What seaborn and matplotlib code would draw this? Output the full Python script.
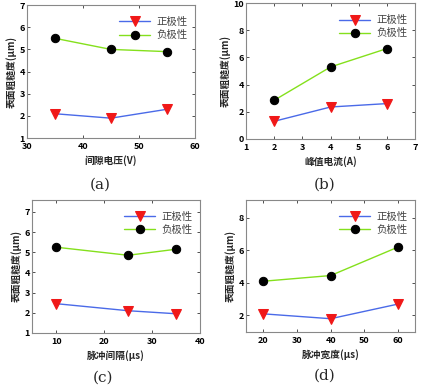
import matplotlib

matplotlib.use("Agg")
import matplotlib.pyplot as plt
import pandas as pd
import seaborn as sns

# 数据
gap_voltage = [35, 45, 55]
gap_pos = [2.1, 1.9, 2.3]
gap_neg = [5.5, 5.0, 4.9]

peak_current = [2, 4, 6]
peak_pos = [1.3, 2.35, 2.6]
peak_neg = [2.85, 5.3, 6.65]

pulse_interval = [10, 25, 35]
interval_pos = [2.45, 2.1, 1.95]
interval_neg = [5.25, 4.85, 5.15]

pulse_width = [20, 40, 60]
width_pos = [2.1, 1.8, 2.7]
width_neg = [4.1, 4.45, 6.2]

sns.set_style("ticks")
plt.rcParams["font.family"] = ["Noto Sans CJK SC", "DejaVu Sans"]

fig = plt.figure(figsize=(4.35, 3.88), dpi=100)

panels = [
    # x, pos, neg, xlabel, xlim, ylim, xticks, yticks, rect, caption
    (gap_voltage, gap_pos, gap_neg, "间隙电压(V)", (30, 60), (1, 7),
     [30, 40, 50, 60], range(1, 8), [0.062, 0.644, 0.386, 0.343], "(a)", (0.23, 0.515)),
    (peak_current, peak_pos, peak_neg, "峰值电流(A)", (1, 7), (0, 10),
     range(1, 8), range(0, 11, 2), [0.566, 0.642, 0.388, 0.350], "(b)", (0.747, 0.515)),
    (pulse_interval, interval_pos, interval_neg, "脉冲间隔(μs)", (5, 40), (1, 7.6),
     [10, 20, 30, 40], range(1, 8), [0.074, 0.142, 0.386, 0.343], "(c)", (0.237, 0.016)),
    (pulse_width, width_pos, width_neg, "脉冲宽度(μs)", (15, 65), (1, 9.1),
     [20, 30, 40, 50, 60], [2, 4, 6, 8], [0.566, 0.145, 0.388, 0.340], "(d)", (0.747, 0.021)),
]

for x, pos, neg, xlabel, xlim, ylim, xticks, yticks, rect, cap, cap_xy in panels:
    ax = fig.add_axes(rect)
    df = pd.DataFrame({"x": x, "pos": pos, "neg": neg})
    sns.lineplot(data=df, x="x", y="pos", ax=ax, color="#4a6ae8", lw=1.0,
                 marker="v", markersize=7, markerfacecolor="#f01818",
                 markeredgecolor="#f01818", label="正极性")
    sns.lineplot(data=df, x="x", y="neg", ax=ax, color="#84e01c", lw=1.0,
                 marker="o", markersize=6, markerfacecolor="black",
                 markeredgecolor="black", label="负极性")
    ax.set_xlim(*xlim)
    ax.set_ylim(*ylim)
    ax.set_xticks(list(xticks))
    ax.set_yticks(list(yticks))
    ax.tick_params(direction="in", length=2, width=0.6, labelsize=6.5,
                   top=True, right=True, pad=1.5, colors="#333333")
    ax.tick_params(axis="x", pad=3)
    for lab in ax.get_xticklabels() + ax.get_yticklabels():
        lab.set_fontweight("bold")
        lab.set_color("black")
    for sp in ax.spines.values():
        sp.set_color("#888888")
        sp.set_linewidth(0.8)
    ax.set_xlabel(xlabel, fontsize=7, fontweight="bold", labelpad=3)
    ax.set_ylabel("表面粗糙度(μm)", fontsize=7, fontweight="bold", labelpad=2)
    leg = ax.legend(loc="upper right", bbox_to_anchor=(1.0, 0.965), frameon=False,
                    fontsize=7.5, handlelength=3, borderaxespad=0.3,
                    labelspacing=0.3, handletextpad=0.6)
    for t in leg.get_texts():
        t.set_color("#444444")
    fig.text(cap_xy[0], cap_xy[1], cap, fontsize=11, ha="center",
             family=["DejaVu Serif"])

fig.savefig("out.png", dpi=100)
plt.close(fig)
